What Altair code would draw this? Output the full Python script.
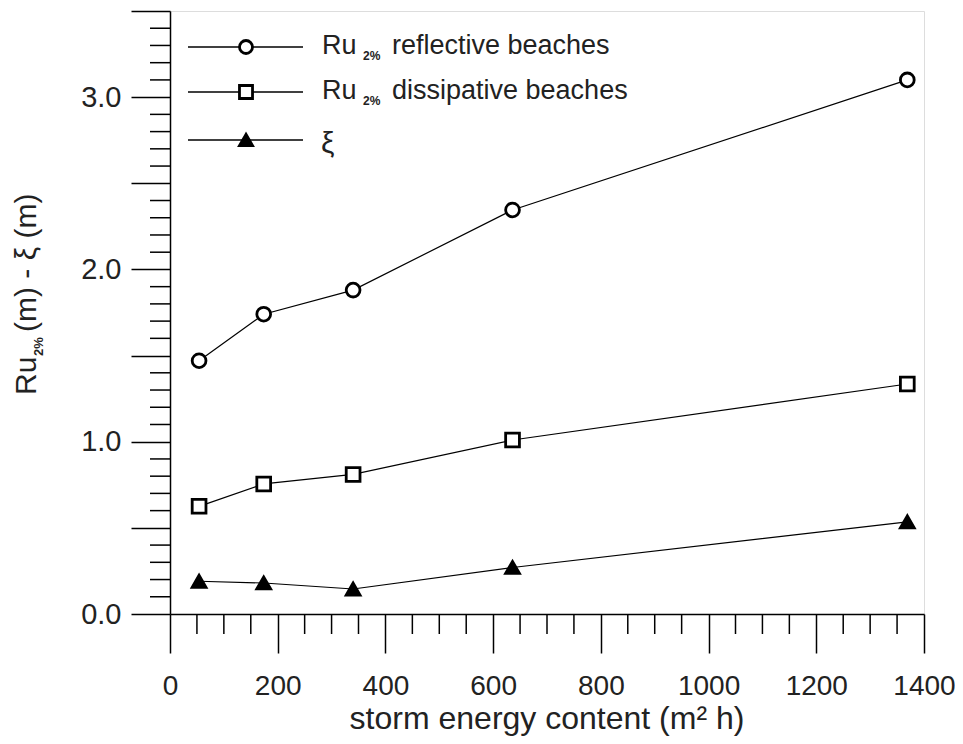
import altair as alt
import pandas as pd

# ---- data ----
storm_energy = [54, 174, 340, 636, 1369]
ru_reflective = [1.47, 1.74, 1.88, 2.345, 3.10]
ru_dissipative = [0.625, 0.755, 0.81, 1.01, 1.335]
xi_values = [0.19, 0.18, 0.145, 0.27, 0.535]

series_names = ["reflective", "dissipative", "xi"]
series_shapes = ["circle", "square", "triangle-up"]
series_fills = ["white", "white", "black"]

legend_main = ["reflective beaches", "dissipative beaches"]
legend_prefix = "Ru"
legend_sub = "2%"
legend_xi = "ξ"

x_major = [0, 200, 400, 600, 800, 1000, 1200, 1400]
x_minor = [50, 100, 150, 250, 300, 350, 450, 500, 550, 650, 700, 750,
           850, 900, 950, 1050, 1100, 1150, 1250, 1300, 1350]
y_major = [0.0, 0.5, 1.0, 1.5, 2.0, 2.5, 3.0, 3.5]
y_minor = [0.1, 0.2, 0.3, 0.4, 0.6, 0.7, 0.8, 0.9, 1.1, 1.2, 1.3, 1.4,
           1.6, 1.7, 1.8, 1.9, 2.1, 2.2, 2.3, 2.4, 2.6, 2.7, 2.8, 2.9,
           3.1, 3.2, 3.3, 3.4]

x_title = "storm energy content (m² h)"
y_title_parts = ["Ru", "2%", "(m) - ξ (m)"]

FONT = "Liberation Sans"
W, H = 754, 603

df = pd.DataFrame({
    "x": storm_energy * 3,
    "y": ru_reflective + ru_dissipative + xi_values,
    "s": [series_names[0]] * 5 + [series_names[1]] * 5 + [series_names[2]] * 5,
})

xs = alt.Scale(domain=[0, 1400], nice=False, zero=False)
ys = alt.Scale(domain=[0, 3.5], nice=False, zero=False)

x_axis = alt.Axis(values=x_major, tickSize=39, tickWidth=1.5, tickColor="black",
                  domainColor="black", domainWidth=1.5, grid=False, title=None,
                  labelFont=FONT, labelFontSize=28, labelColor="#222",
                  labelPadding=19, format="d", labelFlush=False, labelOverlap=False)
y_axis = alt.Axis(values=y_major, tickSize=39, tickWidth=1.5, tickColor="black",
                  domainColor="black", domainWidth=1.5, grid=False, title=None,
                  labelFont=FONT, labelFontSize=29, labelColor="#222",
                  labelPadding=10, labelFlush=False, labelOverlap=False,
                  labelExpr="datum.value % 1 == 0 ? format(datum.value, '.1f') : ''")

base = alt.Chart(df)
lines = base.mark_line(color="black", strokeWidth=1.2).encode(
    x=alt.X("x:Q", scale=xs, axis=x_axis),
    y=alt.Y("y:Q", scale=ys, axis=y_axis),
    detail="s:N",
)
points = base.mark_point(filled=True, stroke="black", strokeWidth=2.8, opacity=1, size=190).encode(
    x=alt.X("x:Q", scale=xs),
    y=alt.Y("y:Q", scale=ys),
    shape=alt.Shape("s:N", scale=alt.Scale(domain=series_names, range=series_shapes), legend=None),
    fill=alt.Fill("s:N", scale=alt.Scale(domain=series_names, range=series_fills), legend=None),
)

xminor = alt.Chart(pd.DataFrame({"x": x_minor})).mark_rule(color="black", strokeWidth=1.5).encode(
    x=alt.X("x:Q", scale=xs), y=alt.value(H), y2=alt.value(H + 20))
yminor = alt.Chart(pd.DataFrame({"y": y_minor})).mark_rule(color="black", strokeWidth=1.5).encode(
    y=alt.Y("y:Q", scale=ys), x=alt.value(-20), x2=alt.value(0))

layers = [lines, points, xminor, yminor]

# ---- legend (drawn inside the plot, top-left) ----
row_y = [36, 81, 129]
one = pd.DataFrame({"k": [0]})
for i, name in enumerate(series_names):
    layers.append(alt.Chart(one).mark_rule(color="black", strokeWidth=1.5).encode(
        x=alt.value(18), x2=alt.value(133), y=alt.value(row_y[i])))
    layers.append(alt.Chart(one).mark_point(
        filled=True, stroke="black", strokeWidth=2.8, opacity=1, size=170,
        shape=series_shapes[i], fill=series_fills[i]).encode(
        x=alt.value(76), y=alt.value(row_y[i])))

for i, txt in enumerate(legend_main):
    bl = row_y[i] + 7
    layers.append(alt.Chart(pd.DataFrame({"t": [legend_prefix]})).mark_text(
        font=FONT, fontSize=27, color="#222", align="left", baseline="alphabetic").encode(
        text="t:N", x=alt.value(152), y=alt.value(bl)))
    layers.append(alt.Chart(pd.DataFrame({"t": [legend_sub]})).mark_text(
        font=FONT, fontSize=12, fontWeight="bold", color="#222", align="left", baseline="alphabetic").encode(
        text="t:N", x=alt.value(193), y=alt.value(bl + 6)))
    layers.append(alt.Chart(pd.DataFrame({"t": [txt]})).mark_text(
        font=FONT, fontSize=27, color="#222", align="left", baseline="alphabetic").encode(
        text="t:N", x=alt.value(222), y=alt.value(bl)))

layers.append(alt.Chart(pd.DataFrame({"t": [legend_xi]})).mark_text(
    font=FONT, fontSize=30, color="#222", align="left", baseline="alphabetic").encode(
    text="t:N", x=alt.value(151), y=alt.value(row_y[2] + 13)))

# ---- axis titles ----
layers.append(alt.Chart(pd.DataFrame({"t": [x_title]})).mark_text(
    font=FONT, fontSize=32, color="#222", align="center", baseline="alphabetic").encode(
    text="t:N", x=alt.value(W / 2), y=alt.value(718)))

layers.append(alt.Chart(pd.DataFrame({"t": [y_title_parts[0]]})).mark_text(
    font=FONT, fontSize=30, color="#222", align="left", baseline="alphabetic", angle=270).encode(
    text="t:N", x=alt.value(-134), y=alt.value(384)))
layers.append(alt.Chart(pd.DataFrame({"t": [y_title_parts[1]]})).mark_text(
    font=FONT, fontSize=13, fontWeight="bold", color="#222", align="left", baseline="alphabetic", angle=270).encode(
    text="t:N", x=alt.value(-127), y=alt.value(345)))
layers.append(alt.Chart(pd.DataFrame({"t": [y_title_parts[2]]})).mark_text(
    font=FONT, fontSize=30, color="#222", align="left", baseline="alphabetic", angle=270).encode(
    text="t:N", x=alt.value(-134), y=alt.value(321)))

chart = alt.layer(*layers).properties(
    width=W, height=H,
    autosize=alt.AutoSizeParams(type="none"),
    padding={"left": 162, "top": 3, "right": 31, "bottom": 122},
).configure_view(stroke="black", strokeWidth=1.5).configure(background="white")

chart.save("out.html", embed_options={"renderer": "svg", "actions": False})
